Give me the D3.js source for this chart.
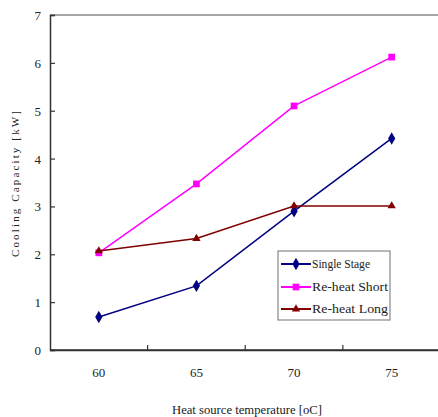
<!DOCTYPE html>
<html><head><meta charset="utf-8">
<script src="https://cdn.jsdelivr.net/npm/d3@7"></script>
<style>body{margin:0;background:#fff}svg{display:block}text{font-family:"Liberation Serif","DejaVu Serif",serif;fill:#222}</style>
</head><body><svg id="c" width="438" height="417"></svg>
<script>
const categories = ["60","65","70","75"];
const singleStage = [0.69, 1.34, 2.90, 4.42];
const reheatShort = [2.03, 3.47, 5.10, 6.12];
const reheatLong = [2.07, 2.33, 3.01, 3.01];
const seriesNames = ["Single Stage","Re-heat Short","Re-heat Long"];
const yTicks = [0,1,2,3,4,5,6,7];
const xTitle = "Heat source temperature [oC]";
const yTitle = "Cooling Capacity [kW]";

const series = [
  {name: seriesNames[0], values: singleStage, color: "#000080", sym: d3.symbolDiamond, size: 45},
  {name: seriesNames[1], values: reheatShort, color: "#ff00ff", sym: d3.symbolSquare, size: 45},
  {name: seriesNames[2], values: reheatLong, color: "#800000", sym: d3.symbolTriangle, size: 30}
];

const svg = d3.select("#c");
const L = 50, R = 440.5, T = 15, B = 350;
const x = d3.scaleBand().domain(categories).range([L, R]);
const y = d3.scaleLinear().domain([0, 7]).range([B, T]);

// top border
svg.append("line").attr("x1", L).attr("x2", 438).attr("y1", T).attr("y2", T)
  .attr("stroke", "#888").attr("stroke-width", 1.5);

// y axis
const ya = svg.append("g").attr("transform", `translate(${L},0)`)
  .call(d3.axisRight(y).tickValues(yTicks).tickSize(5).tickFormat(d3.format("d")));
ya.select(".domain").attr("stroke", "#333").attr("stroke-width", 1.5);
ya.selectAll(".tick line").attr("stroke", "#333").attr("stroke-width", 1.2);
ya.selectAll(".tick text").attr("x", -9).attr("text-anchor", "end")
  .style("font-size", "13px").attr("dy", "0.35em").attr("transform", "scale(1,1)");

// x axis
const xa = svg.append("g").attr("transform", `translate(0,${B})`)
  .call(d3.axisTop(x).tickSize(0).tickFormat(""));
xa.select(".domain").attr("stroke", "#333").attr("stroke-width", 1.5);
xa.selectAll(".tick").remove();
const bounds = categories.slice(1).map(c => x(c)).concat([R]);
xa.selectAll("line.b").data(bounds).enter().append("line")
  .attr("x1", d => d).attr("x2", d => d).attr("y1", 0).attr("y2", -5)
  .attr("stroke", "#333").attr("stroke-width", 1.2);
svg.append("line").attr("x1", L).attr("x2", 438).attr("y1", B).attr("y2", B)
  .attr("stroke", "#333").attr("stroke-width", 1.5);
svg.selectAll("text.xt").data(categories).enter().append("text")
  .attr("x", d => x(d) + x.bandwidth() / 2).attr("y", 377)
  .attr("text-anchor", "middle").style("font-size", "13px").text(d => d);

// titles
svg.append("text").attr("x", 247).attr("y", 414).attr("text-anchor", "middle")
  .attr("textLength", 150).attr("lengthAdjust", "spacingAndGlyphs")
  .style("font-size", "12px").text(xTitle);
svg.append("text").attr("transform", "translate(19,184) rotate(-90)")
  .attr("text-anchor", "middle").attr("textLength", 146).attr("lengthAdjust", "spacing")
  .style("font-size", "11px").text(yTitle);

// lines
const line = d3.line().x((d, i) => x(categories[i]) + x.bandwidth() / 2).y(d => y(d));
series.forEach(s => {
  svg.append("path").datum(s.values).attr("d", line)
    .attr("fill", "none").attr("stroke", s.color).attr("stroke-width", 1.5);
  svg.selectAll(null).data(s.values).enter().append("path")
    .attr("d", d3.symbol().type(s.sym).size(s.size))
    .attr("transform", (d, i) => `translate(${x(categories[i]) + x.bandwidth() / 2},${y(d)})`)
    .attr("fill", s.color);
});

// legend
const lg = svg.append("g");
lg.append("rect").attr("x", 278).attr("y", 251).attr("width", 112).attr("height", 69)
  .attr("fill", "#fff").attr("stroke", "#888").attr("stroke-width", 1.2);
const rows = [264, 287, 309];
series.forEach((s, i) => {
  lg.append("line").attr("x1", 281).attr("x2", 311).attr("y1", rows[i]).attr("y2", rows[i])
    .attr("stroke", s.color).attr("stroke-width", 2);
  lg.append("path").attr("d", d3.symbol().type(s.sym).size(s.size))
    .attr("transform", `translate(296,${rows[i]})`).attr("fill", s.color);
  lg.append("text").attr("x", 312).attr("y", rows[i] + 4).style("font-size", "12px")
    .attr("textLength", i === 0 ? 58 : 76).attr("lengthAdjust", "spacingAndGlyphs")
    .text(s.name);
});
</script></body></html>
